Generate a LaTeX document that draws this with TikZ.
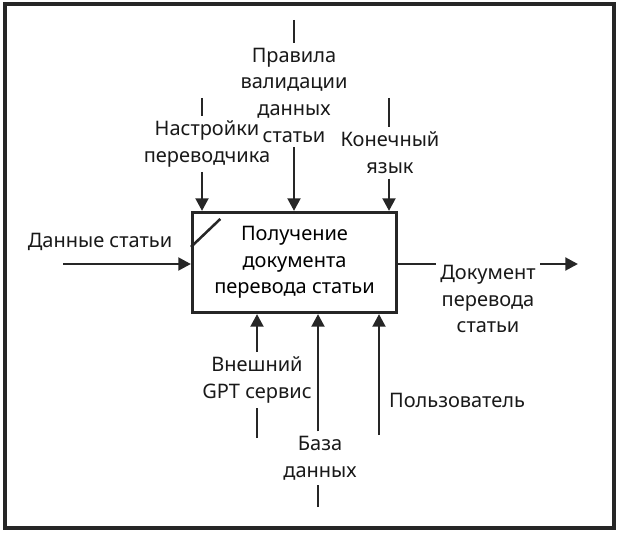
\documentclass[tikz,border=0pt]{standalone}
\usepackage{fontspec}
\setmainfont{Noto Sans}
\usetikzlibrary{arrows.meta,positioning}

\begin{document}
\begin{tikzpicture}[
  x=0.75pt, y=-0.75pt,
  font=\fontsize{15}{20}\selectfont, line width=2.2pt,
  func/.style={draw=black!85, line width=2.3pt, minimum width=153pt, minimum height=75pt, align=center, inner sep=2pt},
  lbl/.style={align=center, inner sep=2.5pt, text=black!90},
  arr/.style={->, draw=black!85},
  ln/.style={draw=black!85},
  >={Triangle[length=9.5pt, width=9.5pt]}]
\useasboundingbox (0,0) rectangle (621,535);
\draw[line width=2.6pt, black!85] (5,4) rectangle (614,528);
\node[func] (fn) at (294.5,262.5) {Получение\\документа\\перевода статьи};
\draw[line width=1.9pt, black!85] ([yshift=-27pt]fn.north west) -- ++(22pt,21pt);
% входы и выходы
\coordinate (inS) at (63,264);
\coordinate (outE) at (578,264);
\node[lbl] (inL) at (100,242) {Данные статьи};
\node[lbl] (outL) at (488,299) {Документ\\перевода\\статьи};
% управление
\coordinate (c1) at (202,98);
\coordinate (c2) at (294,20);
\coordinate (c3) at (389,98);
\node[lbl] (c2L) at (294,95) {Правила\\валидации\\данных\\статьи};
\node[lbl] (c1L) at (207,144) {Настройки\\переводчика};
\node[lbl] (c3L) at (390,153) {Конечный\\язык};
% механизмы
\coordinate (m1) at (257,438);
\coordinate (m2) at (318,507);
\coordinate (m3) at (379,435);
\node[lbl] (m1L) at (257,380) {Внешний\\GPT сервис};
\node[lbl] (m2L) at (320,458) {База\\данных};
\node[lbl, right=4pt of m3, yshift=26pt, anchor=west] (m3L) {Пользователь};
\draw[arr] (inS) -- (fn.west |- inS);
\draw[ln] (fn.east |- outE) -- (outL.west |- outE);
\draw[arr] (outL.east |- outE) -- (outE);
\draw[ln] (c1) -- (c1L.north -| c1);
\draw[arr] (c1L.south -| c1) -- (fn.north -| c1);
\draw[ln] (c2) -- (c2L.north);
\draw[arr] (c2L.south -| c2) -- (fn.north -| c2);
\draw[ln] (c3) -- (c3L.north -| c3);
\draw[arr] (c3L.south -| c3) -- (fn.north -| c3);
\draw[ln] (m1) -- (m1L.south -| m1);
\draw[arr] (m1L.north -| m1) -- (fn.south -| m1);
\draw[ln] (m2) -- (m2L.south -| m2);
\draw[arr] (m2L.north -| m2) -- (fn.south -| m2);
\draw[arr] (m3) -- (fn.south -| m3);
\end{tikzpicture}
\end{document}
